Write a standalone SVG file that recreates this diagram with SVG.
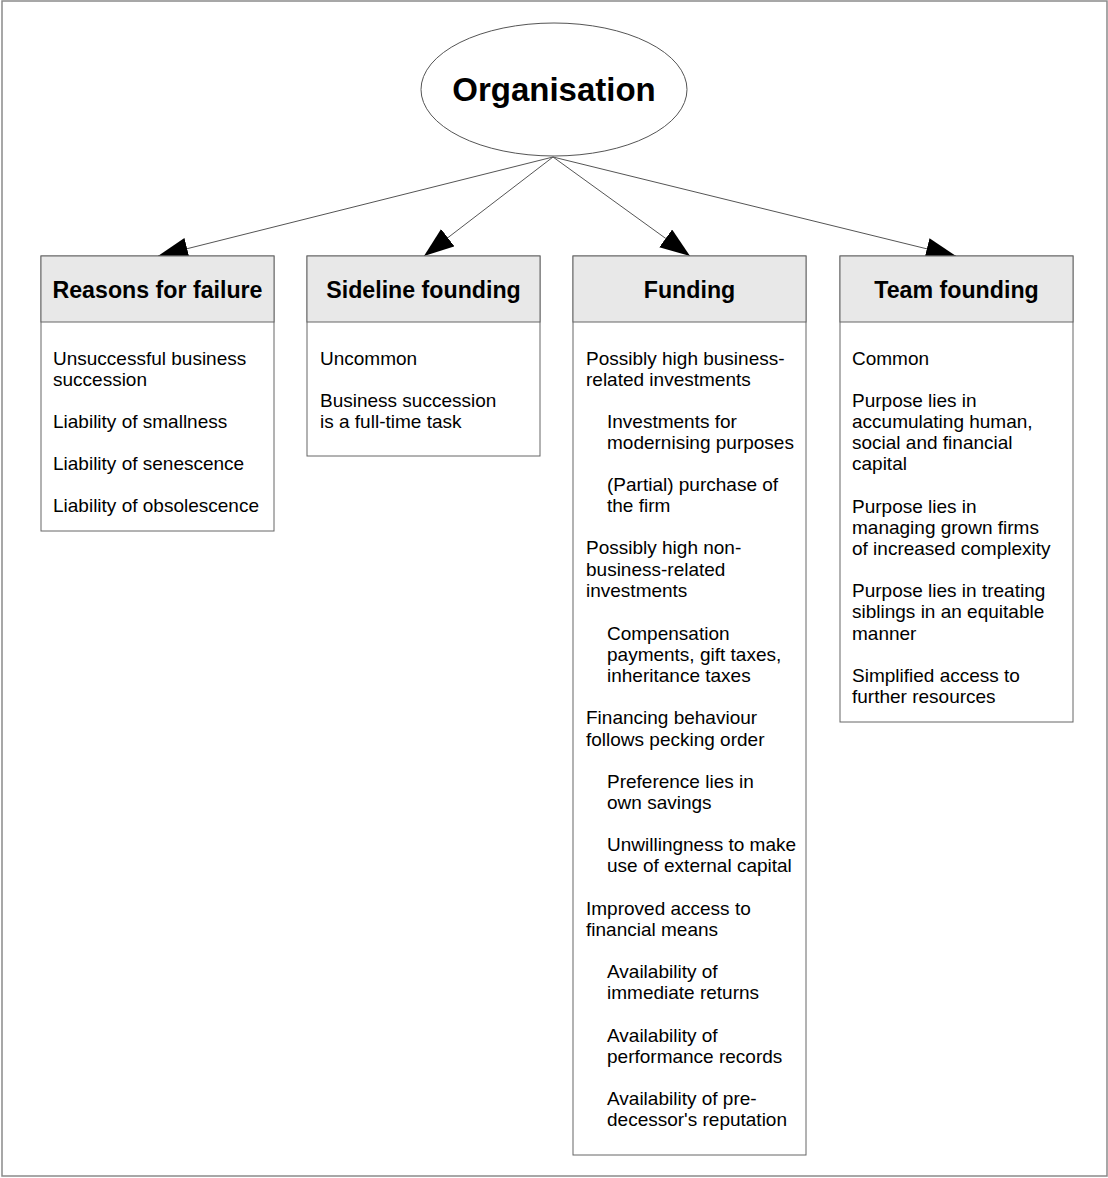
<svg xmlns="http://www.w3.org/2000/svg" width="1108" height="1178" viewBox="0 0 1108 1178">
  <style>
    .frame { fill: #ffffff; stroke: #8a8a8a; stroke-width: 1.5; }
    .box { fill: #ffffff; stroke: #666666; stroke-width: 1; }
    .head { fill: #e8e8e8; stroke: #666666; stroke-width: 1; }
    .title { font-family: "Liberation Sans", Arial, sans-serif; font-weight: bold; font-size: 23.2px; fill: #000000; text-anchor: middle; }
    .item { font-family: "Liberation Sans", Arial, sans-serif; font-size: 19px; fill: #000000; }
    .root { font-family: "Liberation Sans", Arial, sans-serif; font-weight: bold; font-size: 33px; fill: #000000; text-anchor: middle; }
    .link { fill: none; stroke: #555555; stroke-width: 1; marker-end: url(#arrow); }
  </style>
  <defs>
    <marker id="arrow" markerWidth="30" markerHeight="22" refX="30" refY="11" orient="auto" markerUnits="userSpaceOnUse">
      <path d="M0,0 L30,11 L0,22 Z" fill="#000000"/>
    </marker>
  </defs>

  <rect class="frame" x="2" y="1" width="1105" height="1175"/>

  <!-- connectors from the root ellipse to each category box -->
  <g id="connectors">
    <line class="link" x1="553" y1="157" x2="158" y2="256"/>
    <line class="link" x1="553" y1="157" x2="424" y2="256"/>
    <line class="link" x1="553" y1="157" x2="690" y2="256"/>
    <line class="link" x1="553" y1="157" x2="956" y2="256"/>
  </g>

  <g id="organisation">
    <ellipse cx="554" cy="89.5" rx="133" ry="66.5" fill="#ffffff" stroke="#555555" stroke-width="1"/>
    <text class="root" x="554" y="101">Organisation</text>
  </g>

  <g id="reasons-for-failure">
    <rect class="box" x="41" y="256" width="233" height="275"/>
    <rect class="head" x="41" y="256" width="233" height="66"/>
    <text class="title" x="157.5" y="298">Reasons for failure</text>
    <text class="item">
      <tspan x="53" y="365">Unsuccessful business</tspan>
      <tspan x="53" y="386">succession</tspan>
      <tspan x="53" y="428">Liability of smallness</tspan>
      <tspan x="53" y="470">Liability of senescence</tspan>
      <tspan x="53" y="512">Liability of obsolescence</tspan>
    </text>
  </g>

  <g id="sideline-founding">
    <rect class="box" x="307" y="256" width="233" height="200"/>
    <rect class="head" x="307" y="256" width="233" height="66"/>
    <text class="title" x="423.5" y="298">Sideline founding</text>
    <text class="item">
      <tspan x="320" y="365">Uncommon</tspan>
      <tspan x="320" y="407">Business succession</tspan>
      <tspan x="320" y="428">is a full-time task</tspan>
    </text>
  </g>

  <g id="funding">
    <rect class="box" x="573" y="256" width="233" height="899"/>
    <rect class="head" x="573" y="256" width="233" height="66"/>
    <text class="title" x="689.5" y="298">Funding</text>
    <text class="item">
      <tspan x="586" y="365">Possibly high business-</tspan>
      <tspan x="586" y="386">related investments</tspan>
      <tspan x="607" y="428">Investments for</tspan>
      <tspan x="607" y="449">modernising purposes</tspan>
      <tspan x="607" y="491">(Partial) purchase of</tspan>
      <tspan x="607" y="512">the firm</tspan>
      <tspan x="586" y="554">Possibly high non-</tspan>
      <tspan x="586" y="576">business-related</tspan>
      <tspan x="586" y="597">investments</tspan>
      <tspan x="607" y="640">Compensation</tspan>
      <tspan x="607" y="661">payments, gift taxes,</tspan>
      <tspan x="607" y="682">inheritance taxes</tspan>
      <tspan x="586" y="724">Financing behaviour</tspan>
      <tspan x="586" y="746">follows pecking order</tspan>
      <tspan x="607" y="788">Preference lies in</tspan>
      <tspan x="607" y="809">own savings</tspan>
      <tspan x="607" y="851">Unwillingness to make</tspan>
      <tspan x="607" y="872">use of external capital</tspan>
      <tspan x="586" y="915">Improved access to</tspan>
      <tspan x="586" y="936">financial means</tspan>
      <tspan x="607" y="978">Availability of</tspan>
      <tspan x="607" y="999">immediate returns</tspan>
      <tspan x="607" y="1042">Availability of</tspan>
      <tspan x="607" y="1063">performance records</tspan>
      <tspan x="607" y="1105">Availability of pre-</tspan>
      <tspan x="607" y="1126">decessor's reputation</tspan>
    </text>
  </g>

  <g id="team-founding">
    <rect class="box" x="840" y="256" width="233" height="466"/>
    <rect class="head" x="840" y="256" width="233" height="66"/>
    <text class="title" x="956.5" y="298">Team founding</text>
    <text class="item">
      <tspan x="852" y="365">Common</tspan>
      <tspan x="852" y="407">Purpose lies in</tspan>
      <tspan x="852" y="428">accumulating human,</tspan>
      <tspan x="852" y="449">social and financial</tspan>
      <tspan x="852" y="470">capital</tspan>
      <tspan x="852" y="513">Purpose lies in</tspan>
      <tspan x="852" y="534">managing grown firms</tspan>
      <tspan x="852" y="555">of increased complexity</tspan>
      <tspan x="852" y="597">Purpose lies in treating</tspan>
      <tspan x="852" y="618">siblings in an equitable</tspan>
      <tspan x="852" y="640">manner</tspan>
      <tspan x="852" y="682">Simplified access to</tspan>
      <tspan x="852" y="703">further resources</tspan>
    </text>
  </g>
</svg>
